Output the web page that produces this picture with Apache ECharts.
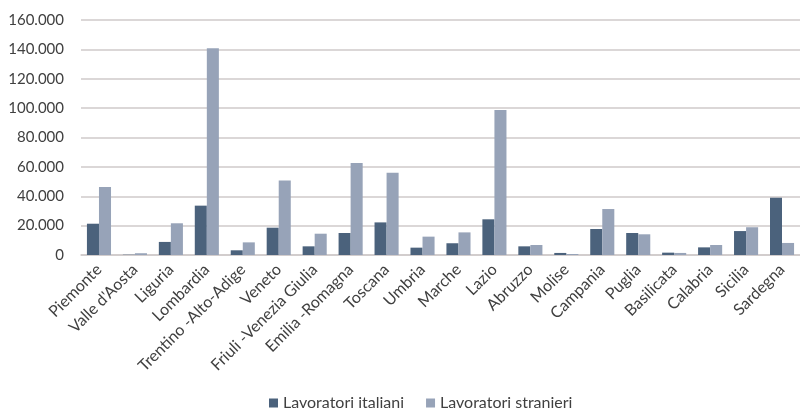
<!DOCTYPE html>
<html>
<head>
<meta charset="utf-8">
<script src="https://cdn.jsdelivr.net/npm/echarts@6/dist/echarts.min.js"></script>
<style>
    html, body { margin: 0; padding: 0; background: #fff; }
    #chart { width: 800px; height: 416px; }
</style>
</head>
<body>
<div id="chart"></div>
<script>
    const regioni = ['Piemonte', "Valle d'Aosta", 'Liguria', 'Lombardia', 'Trentino -Alto-Adige', 'Veneto',
        'Friuli -Venezia Giulia', 'Emilia -Romagna', 'Toscana', 'Umbria', 'Marche', 'Lazio', 'Abruzzo',
        'Molise', 'Campania', 'Puglia', 'Basilicata', 'Calabria', 'Sicilia', 'Sardegna'];
    const italiani = [21300, 200, 8900, 33600, 3200, 18600, 5900, 15000, 22200, 5000, 8000, 24300, 5900,
        1400, 17700, 15000, 1600, 5200, 16300, 39000];
    const stranieri = [46300, 1200, 21600, 140700, 8600, 50800, 14500, 62600, 56000, 12500, 15400, 98700, 6800,
        700, 31300, 14100, 1400, 6800, 18900, 8200];

    const textColor = '#404040';
    const font = 'Lato';

    // 160000 -> "160.000"
    function fmt(v) {
        return v === 0 ? '0' : (v / 1000).toFixed(0) + '.000';
    }

    let chart = echarts.init(document.getElementById('chart'));
    chart.setOption({
        animation: false,
        color: ['#4b627c', '#97a3b8'],
        grid: {
            left: 81,
            right: -6,
            top: 20,
            bottom: 161
        },
        legend: {
            data: ['Lavoratori italiani', 'Lavoratori stranieri'],
            bottom: 0,
            left: 264,
            icon: 'rect',
            itemWidth: 9,
            itemHeight: 9,
            itemGap: 22,
            textStyle: { color: textColor, fontSize: 16, fontFamily: font }
        },
        xAxis: {
            type: 'category',
            data: regioni,
            axisLine: { lineStyle: { color: '#cfcaca', width: 1.5 } },
            axisTick: { show: false },
            axisLabel: {
                rotate: 45,
                interval: 0,
                margin: 12,
                color: textColor,
                fontSize: 16,
                fontFamily: font
            }
        },
        yAxis: {
            type: 'value',
            min: 0,
            max: 160000,
            interval: 20000,
            axisLine: { show: false },
            axisTick: { show: false },
            splitLine: { lineStyle: { color: '#cfcaca', width: 1.5 } },
            axisLabel: {
                margin: 17,
                color: textColor,
                fontSize: 15,
                fontFamily: font,
                formatter: fmt
            }
        },
        series: [{
            name: 'Lavoratori italiani',
            type: 'bar',
            data: italiani,
            barGap: '0%',
            barCategoryGap: '33%'
        }, {
            name: 'Lavoratori stranieri',
            type: 'bar',
            data: stranieri,
            barGap: '0%',
            barCategoryGap: '33%'
        }]
    });
</script>
</body>
</html>
